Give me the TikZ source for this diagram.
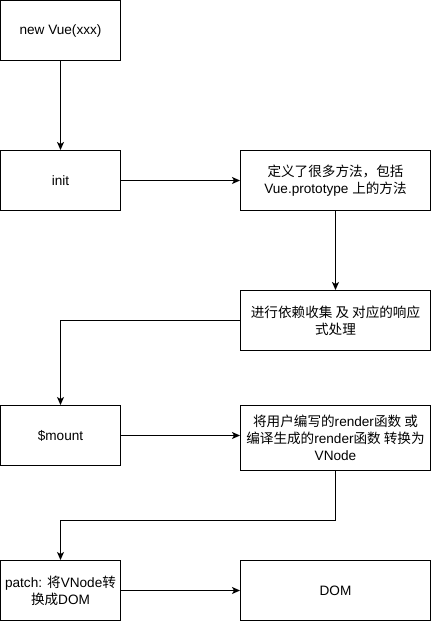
\documentclass[tikz,border=0pt]{standalone}
\usepackage{fontspec}
\setmainfont{Liberation Sans}
\newfontfamily\cjk{Noto Sans CJK SC}
\usetikzlibrary{arrows.meta}
\begin{document}
\begin{tikzpicture}[x=1pt,y=-1pt,
  box/.style={draw, line width=1pt, minimum width=120pt, minimum height=60pt,
    inner sep=0pt, align=center, font=\fontsize{13.6}{17}\selectfont},
  wide/.style={box, minimum width=190pt},
  flow/.style={draw, line width=1pt, -{Stealth[length=8pt,width=7pt,inset=2pt]}}
]
\useasboundingbox (0,0) rectangle (431,621);

% left column
\node[box] (newvue) at (60.5,30.5) {new Vue(xxx)};
\node[box] (init)   at (60.5,180.5) {init};
\node[box] (mount)  at (60.5,435.5) {\$mount};
\node[box] (patch)  at (60.5,590.5) {patch: {\cjk 将}VNode{\cjk 转}\\{\cjk 换成}DOM};

% right column
\node[wide] (define) at (335.5,180.5) {{\cjk 定义了很多方法，包括}\\Vue.prototype {\cjk 上的方法}};
\node[wide] (dep)    at (335.5,320.5) {{\cjk 进行依赖收集 及 对应的响应}\\{\cjk 式处理}};
\node[wide, minimum height=65pt] (render) at (335.5,438) {{\cjk 将用户编写的}render{\cjk 函数 或}\\{\cjk 编译生成的}render{\cjk 函数 转换为}\\VNode};
\node[wide] (dom)    at (335.5,590.5) {DOM};

% connectors
\draw[flow] (newvue) -- (init);
\draw[flow] (init) -- (define);
\draw[flow] (define) -- (dep);
\draw[flow] (dep.west) -| (mount.north);
\draw[flow] (mount) -- (mount -| render.west);
\draw[flow] (render.south) -- ++(0,49.5) -| (patch.north);
\draw[flow] (patch) -- (dom);
\end{tikzpicture}
\end{document}
